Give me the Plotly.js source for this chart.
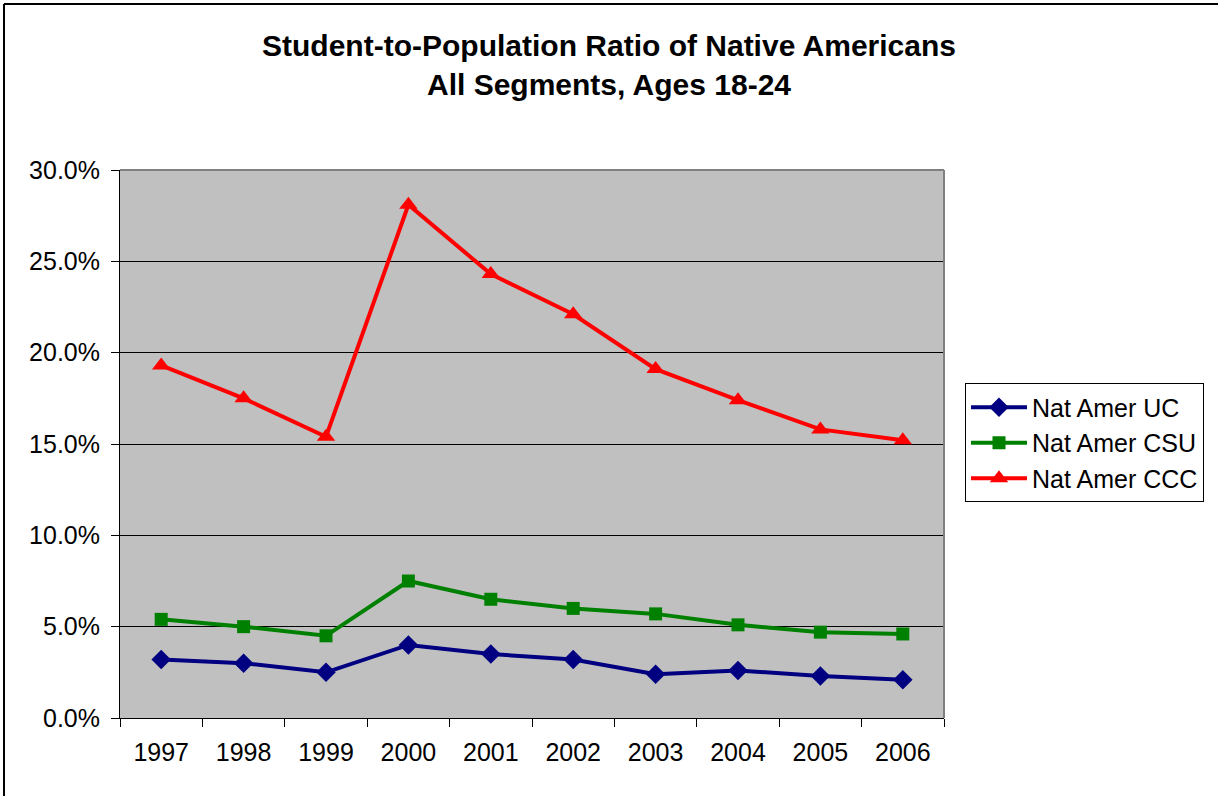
<!DOCTYPE html>
<html>
<head>
<meta charset="utf-8">
<script src="https://cdn.plot.ly/plotly-3.0.1.min.js"></script>
<style>
  html, body { margin: 0; padding: 0; background: #fff; }
  #chart { width: 1218px; height: 796px; }
</style>
</head>
<body>
<div id="chart"></div>
<script>
// Academic years on the category axis
const years = ['1997', '1998', '1999', '2000', '2001', '2002', '2003', '2004', '2005', '2006'];

// Student-to-population ratio (percent of Native Americans aged 18-24)
const ucRatio  = [3.2, 3.0, 2.5, 4.0, 3.5, 3.2, 2.4, 2.6, 2.3, 2.1];
const csuRatio = [5.4, 5.0, 4.5, 7.5, 6.5, 6.0, 5.7, 5.1, 4.7, 4.6];
const cccRatio = [19.3, 17.5, 15.4, 28.1, 24.3, 22.1, 19.1, 17.4, 15.8, 15.2];

const seriesNames = ['Nat Amer UC', 'Nat Amer CSU', 'Nat Amer CCC'];

const FONT = 'Arial, "Liberation Sans", sans-serif';
const LABEL_SIZE = 25;

function series(name, values, color, symbol, size) {
  return {
    type: 'scatter',
    mode: 'lines+markers',
    name: name,
    x: years,
    y: values.map(v => v / 100),
    line: { color: color, width: 4 },
    marker: { color: color, symbol: symbol, size: size, line: { width: 0 } },
    hoverinfo: 'skip'
  };
}

const traces = [
  series(seriesNames[0], ucRatio, '#000080', 'diamond', 15),
  series(seriesNames[1], csuRatio, '#008000', 'square', 13),
  series(seriesNames[2], cccRatio, '#FF0000', 'triangle-up', 16)
];

const layout = {
  width: 1218,
  height: 796,
  margin: { l: 120, r: 274, t: 170, b: 78 },
  paper_bgcolor: '#ffffff',
  plot_bgcolor: '#C0C0C0',
  font: { family: FONT, size: LABEL_SIZE, color: '#000' },
  title: {
    text: '<b>Student-to-Population Ratio of Native Americans<br>All Segments, Ages 18-24</b>',
    font: { family: FONT, size: 30, color: '#000' },
    x: 0.5, xanchor: 'center',
    y: 0.9296, yanchor: 'middle'
  },
  xaxis: {
    type: 'category',
    range: [-0.5, years.length - 0.5],
    showgrid: false,
    ticks: 'outside',
    tickson: 'boundaries',
    ticklen: 8,
    tickcolor: '#000',
    tickwidth: 1,
    showline: true,
    linecolor: '#000',
    linewidth: 1,
    ticklabelstandoff: 12,
    tickfont: { family: FONT, size: LABEL_SIZE, color: '#000' },
    fixedrange: true
  },
  yaxis: {
    range: [0, 0.30],
    dtick: 0.05,
    tick0: 0,
    tickformat: '.1%',
    showgrid: true,
    gridcolor: '#000',
    gridwidth: 1,
    zeroline: false,
    ticks: 'outside',
    ticklen: 8,
    tickcolor: '#000',
    showline: true,
    linecolor: '#000',
    linewidth: 1,
    ticklabelstandoff: 6,
    tickfont: { family: FONT, size: LABEL_SIZE, color: '#000' },
    fixedrange: true
  },
  legend: {
    x: 1.0255, xanchor: 'left',
    y: 0.502, yanchor: 'middle',
    bgcolor: '#ffffff',
    bordercolor: '#000',
    borderwidth: 1,
    font: { family: FONT, size: LABEL_SIZE, color: '#000' },
    itemwidth: 56,
    tracegroupgap: 0
  },
  showlegend: true,
  shapes: [
    // grey frame on the top and right of the plotting area
    { type: 'line', xref: 'paper', yref: 'paper', x0: 0, x1: 1, y0: 1, y1: 1,
      line: { color: '#808080', width: 2 }, layer: 'above' },
    { type: 'line', xref: 'paper', yref: 'paper', x0: 1, x1: 1, y0: 0, y1: 1,
      line: { color: '#808080', width: 2 }, layer: 'above' },
    // chart border (top and left edges)
    { type: 'line', xref: 'paper', yref: 'paper',
      x0: -116 / 824, x1: 1 + 274 / 824, y0: 1 + 166 / 548, y1: 1 + 166 / 548,
      line: { color: '#000', width: 2 }, layer: 'above' },
    { type: 'line', xref: 'paper', yref: 'paper',
      x0: -116 / 824, x1: -116 / 824, y0: -78 / 548, y1: 1 + 166 / 548,
      line: { color: '#000', width: 2 }, layer: 'above' }
  ]
};

Plotly.newPlot('chart', traces, layout, { staticPlot: true, displayModeBar: false });
</script>
</body>
</html>
